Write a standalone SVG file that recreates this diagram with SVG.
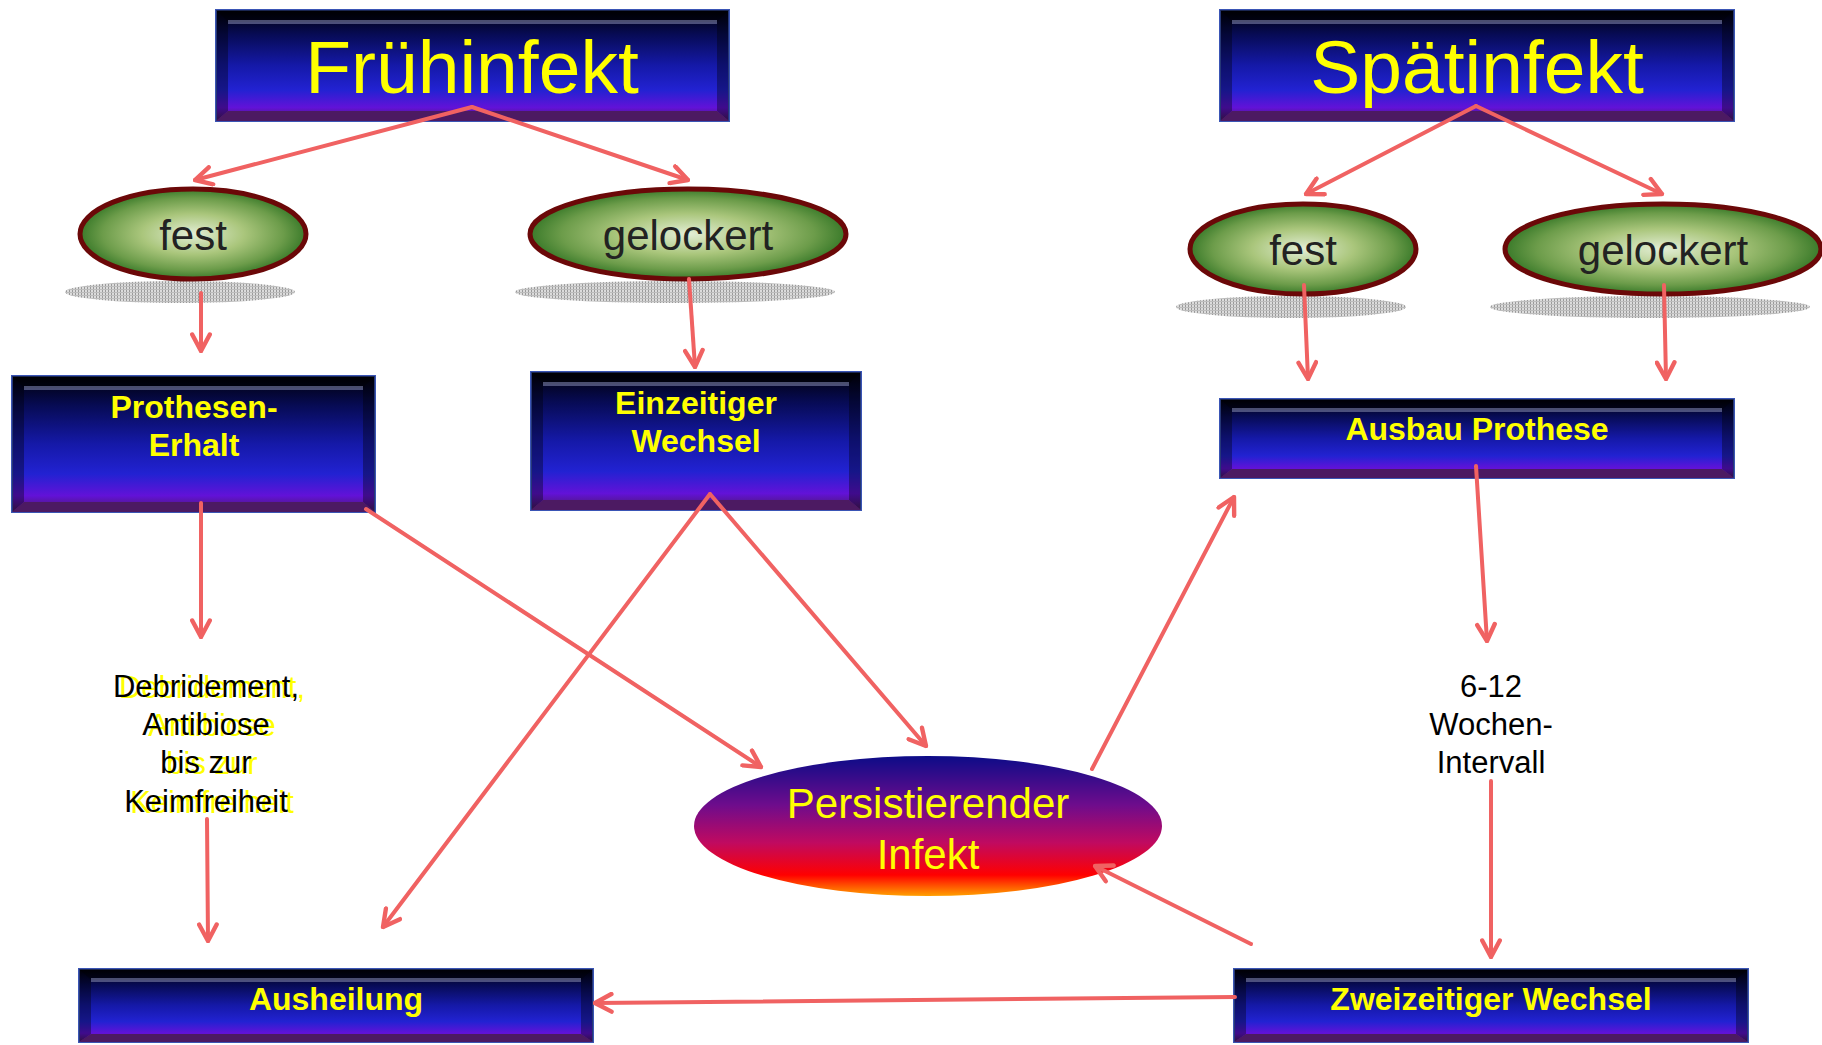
<svg xmlns="http://www.w3.org/2000/svg" width="1822" height="1045" viewBox="0 0 1822 1045">
<defs>
<style>
.bx{stroke:#3a55b5;stroke-width:2}
.bb{fill:#4c1a62}
.bs{fill:#000;opacity:.35}
.bt{fill:#000;opacity:.55}
.hl{stroke:#6a6f98;stroke-width:4;opacity:.7}
.lbl{font-family:"Liberation Sans",Arial,sans-serif;font-weight:bold;font-size:32px;fill:#ffff00;text-anchor:middle}
.ttl{font-family:"Liberation Sans",Arial,sans-serif;font-size:75px;fill:#ffff00;text-anchor:middle}
.ov{fill:url(#green);stroke:#6b0808;stroke-width:5}
.sh{fill:url(#hatch)}
.ovt{font-family:"Liberation Sans",Arial,sans-serif;font-size:42px;fill:#222;text-anchor:middle}
.pt{font-family:"Liberation Sans",Arial,sans-serif;font-size:42px;fill:#ffff00;text-anchor:middle}
.nt{font-family:"Liberation Sans",Arial,sans-serif;font-size:31px;text-anchor:middle}
.cn{stroke:#f06262;stroke-width:4;fill:none;stroke-linecap:round;marker-end:url(#ah)}
</style>
<linearGradient id="boxFill" x1="0" y1="0" x2="0" y2="1">
<stop offset="0" stop-color="#000008"/>
<stop offset="0.22" stop-color="#070b55"/>
<stop offset="0.5" stop-color="#1519a8"/>
<stop offset="0.72" stop-color="#2222d2"/>
<stop offset="0.88" stop-color="#6212d8"/>
<stop offset="1" stop-color="#4a1a60"/>
</linearGradient>
<radialGradient id="green" cx="0.5" cy="0.5" r="0.5">
<stop offset="0" stop-color="#e3eed6"/>
<stop offset="0.45" stop-color="#aac67c"/>
<stop offset="0.8" stop-color="#6c9c4a"/>
<stop offset="1" stop-color="#3a7a2a"/>
</radialGradient>
<linearGradient id="pers" x1="0" y1="0" x2="0" y2="1">
<stop offset="0" stop-color="#0c0c88"/>
<stop offset="0.35" stop-color="#6e0c8c"/>
<stop offset="0.62" stop-color="#c00a60"/>
<stop offset="0.85" stop-color="#ff0000"/>
<stop offset="1" stop-color="#ffa000"/>
</linearGradient>
<pattern id="hatch" width="3" height="3" patternUnits="userSpaceOnUse">
<rect width="3" height="3" fill="#dcdcdc"/>
<rect width="1" height="3" fill="#9a9a9a"/>
<rect y="1" width="3" height="1" fill="#bdbdbd"/>
</pattern>
<marker id="ah" viewBox="0 0 20 20" refX="18" refY="10" markerWidth="22" markerHeight="22" markerUnits="userSpaceOnUse" orient="auto">
<path d="M3,2 L18,10 L3,18" fill="none" stroke="#f06262" stroke-width="4" stroke-linecap="round" stroke-linejoin="round"/>
</marker>
</defs>
<rect width="1822" height="1045" fill="#fff"/>

<g id="fruehinfekt">
<rect class="bx" x="216" y="10" width="513" height="111" fill="url(#boxFill)"/>
<polygon class="bt" points="216,10 729,10 717,22 228,22"/>
<polygon class="bs" points="216,10 228,22 228,111 216,121"/>
<polygon class="bs" points="729,10 717,22 717,111 729,121"/>
<polygon class="bb" points="216,121 729,121 717,111 228,111"/>
<line class="hl" x1="228" y1="22" x2="717" y2="22"/>
<text class="ttl" x="472" y="93">Frühinfekt</text>
</g>

<g id="spaetinfekt">
<rect class="bx" x="1220" y="10" width="514" height="111" fill="url(#boxFill)"/>
<polygon class="bt" points="1220,10 1734,10 1722,22 1232,22"/>
<polygon class="bs" points="1220,10 1232,22 1232,111 1220,121"/>
<polygon class="bs" points="1734,10 1722,22 1722,111 1734,121"/>
<polygon class="bb" points="1220,121 1734,121 1722,111 1232,111"/>
<line class="hl" x1="1232" y1="22" x2="1722" y2="22"/>
<text class="ttl" x="1477" y="93">Spätinfekt</text>
</g>

<g id="fest-frueh">
<ellipse class="sh" cx="180" cy="292" rx="115" ry="11"/>
<ellipse class="ov" cx="193" cy="234" rx="113" ry="45"/>
<text class="ovt" x="193" y="250">fest</text>
</g>

<g id="gelockert-frueh">
<ellipse class="sh" cx="675" cy="292" rx="160" ry="11"/>
<ellipse class="ov" cx="688" cy="234" rx="158" ry="45"/>
<text class="ovt" x="688" y="250">gelockert</text>
</g>

<g id="fest-spaet">
<ellipse class="sh" cx="1291" cy="307" rx="115" ry="11"/>
<ellipse class="ov" cx="1303" cy="249" rx="113" ry="45"/>
<text class="ovt" x="1303" y="265">fest</text>
</g>

<g id="gelockert-spaet">
<ellipse class="sh" cx="1650" cy="307" rx="160" ry="11"/>
<ellipse class="ov" cx="1663" cy="249" rx="158" ry="45"/>
<text class="ovt" x="1663" y="265">gelockert</text>
</g>

<g id="prothesen-erhalt">
<rect class="bx" x="12" y="376" width="363" height="136" fill="url(#boxFill)"/>
<polygon class="bt" points="12,376 375,376 363,388 24,388"/>
<polygon class="bs" points="12,376 24,388 24,502 12,512"/>
<polygon class="bs" points="375,376 363,388 363,502 375,512"/>
<polygon class="bb" points="12,512 375,512 363,502 24,502"/>
<line class="hl" x1="24" y1="388" x2="363" y2="388"/>
<text class="lbl" x="194" y="418">Prothesen-</text>
<text class="lbl" x="194" y="456">Erhalt</text>
</g>

<g id="einzeitiger-wechsel">
<rect class="bx" x="531" y="372" width="330" height="138" fill="url(#boxFill)"/>
<polygon class="bt" points="531,372 861,372 849,384 543,384"/>
<polygon class="bs" points="531,372 543,384 543,500 531,510"/>
<polygon class="bs" points="861,372 849,384 849,500 861,510"/>
<polygon class="bb" points="531,510 861,510 849,500 543,500"/>
<line class="hl" x1="543" y1="384" x2="849" y2="384"/>
<text class="lbl" x="696" y="414">Einzeitiger</text>
<text class="lbl" x="696" y="452">Wechsel</text>
</g>

<g id="ausbau-prothese">
<rect class="bx" x="1220" y="399" width="514" height="79" fill="url(#boxFill)"/>
<polygon class="bt" points="1220,399 1734,399 1722,410 1232,410"/>
<polygon class="bs" points="1220,399 1232,410 1232,469 1220,478"/>
<polygon class="bs" points="1734,399 1722,410 1722,469 1734,478"/>
<polygon class="bb" points="1220,478 1734,478 1722,469 1232,469"/>
<line class="hl" x1="1232" y1="410" x2="1722" y2="410"/>
<text class="lbl" x="1477" y="440">Ausbau Prothese</text>
</g>

<g id="debridement">
<text class="nt" fill="#ffff00" x="212" y="698">Debridement,</text>
<text class="nt" fill="#ffff00" x="212" y="736">Antibiose</text>
<text class="nt" fill="#ffff00" x="212" y="774">bis zur</text>
<text class="nt" fill="#ffff00" x="212" y="813">Keimfreiheit</text>
<text class="nt" fill="#000" x="206" y="697">Debridement,</text>
<text class="nt" fill="#000" x="206" y="735">Antibiose</text>
<text class="nt" fill="#000" x="206" y="773">bis zur</text>
<text class="nt" fill="#000" x="206" y="812">Keimfreiheit</text>
</g>

<g id="intervall">
<text class="nt" fill="#000" x="1491" y="697">6-12</text>
<text class="nt" fill="#000" x="1491" y="735">Wochen-</text>
<text class="nt" fill="#000" x="1491" y="773">Intervall</text>
</g>

<g id="persistierender-infekt">
<ellipse cx="928" cy="826" rx="234" ry="70" fill="url(#pers)"/>
<text class="pt" x="928" y="818">Persistierender</text>
<text class="pt" x="928" y="869">Infekt</text>
</g>

<g id="ausheilung">
<rect class="bx" x="79" y="969" width="514" height="73" fill="url(#boxFill)"/>
<polygon class="bt" points="79,969 593,969 581,980 91,980"/>
<polygon class="bs" points="79,969 91,980 91,1034 79,1042"/>
<polygon class="bs" points="593,969 581,980 581,1034 593,1042"/>
<polygon class="bb" points="79,1042 593,1042 581,1034 91,1034"/>
<line class="hl" x1="91" y1="980" x2="581" y2="980"/>
<text class="lbl" x="336" y="1010">Ausheilung</text>
</g>

<g id="zweizeitiger-wechsel">
<rect class="bx" x="1234" y="969" width="514" height="73" fill="url(#boxFill)"/>
<polygon class="bt" points="1234,969 1748,969 1736,980 1246,980"/>
<polygon class="bs" points="1234,969 1246,980 1246,1034 1234,1042"/>
<polygon class="bs" points="1748,969 1736,980 1736,1034 1748,1042"/>
<polygon class="bb" points="1234,1042 1748,1042 1736,1034 1246,1034"/>
<line class="hl" x1="1246" y1="980" x2="1736" y2="980"/>
<text class="lbl" x="1491" y="1010">Zweizeitiger Wechsel</text>
</g>

<g id="connectors">
<line class="cn" x1="472" y1="107" x2="195" y2="180"/>
<line class="cn" x1="472" y1="107" x2="688" y2="180"/>
<line class="cn" x1="1476" y1="106" x2="1306" y2="194"/>
<line class="cn" x1="1476" y1="106" x2="1662" y2="194"/>
<line class="cn" x1="201" y1="293" x2="201" y2="351"/>
<line class="cn" x1="689" y1="279" x2="695" y2="367"/>
<line class="cn" x1="1304" y1="285" x2="1308" y2="379"/>
<line class="cn" x1="1664" y1="285" x2="1666" y2="379"/>
<line class="cn" x1="201" y1="503" x2="201" y2="637"/>
<line class="cn" x1="207" y1="819" x2="208" y2="941"/>
<line class="cn" x1="366" y1="509" x2="761" y2="767"/>
<line class="cn" x1="710" y1="494" x2="383" y2="927"/>
<line class="cn" x1="710" y1="494" x2="926" y2="746"/>
<line class="cn" x1="1092" y1="769" x2="1234" y2="497"/>
<line class="cn" x1="1476" y1="466" x2="1487" y2="641"/>
<line class="cn" x1="1491" y1="781" x2="1491" y2="957"/>
<line class="cn" x1="1251" y1="944" x2="1095" y2="866"/>
<line class="cn" x1="1235" y1="997" x2="595" y2="1003"/>
</g>
</svg>
